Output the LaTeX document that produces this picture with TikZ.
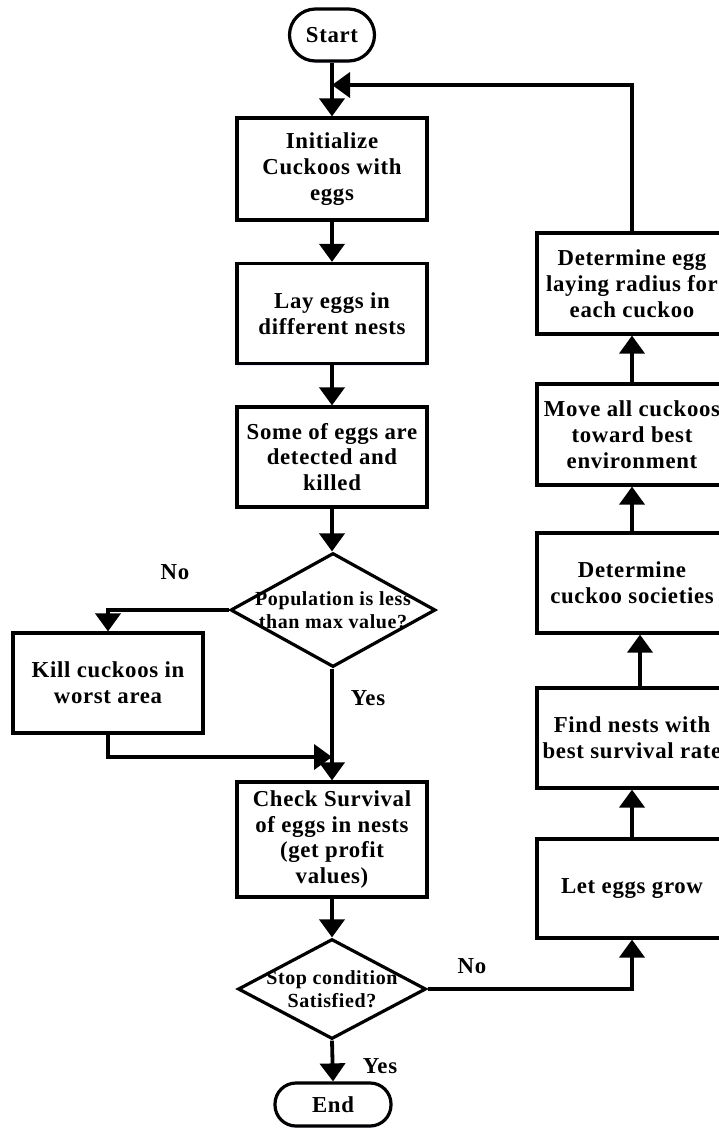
\documentclass[tikz,border=0pt]{standalone}
\usepackage{fontspec}
\setmainfont{Liberation Serif}[LetterSpace=3]
\usetikzlibrary{arrows.meta,shapes.geometric,shadows}
\begin{document}
\begin{tikzpicture}[x=1pt,y=-1pt,
  glow/.style={drop shadow={shadow xshift=0pt,shadow yshift=-2pt,fill=blue!35,opacity=0.25}},
  box/.style={draw,line width=3.2pt,fill=white,glow,minimum width=190pt,inner sep=2pt,align=center,
    font=\bfseries\fontsize{22.8}{25.8}\selectfont},
  term/.style={box,rounded corners=21pt},
  dia/.style={draw,diamond,line width=3.2pt,fill=white,glow,inner sep=0pt},
  diatext/.style={align=center,font=\bfseries\fontsize{20}{22.5}\selectfont},
  lbl/.style={font=\bfseries\fontsize{22.8}{26}\selectfont},
  arr/.style={line width=3.8pt,-{Triangle[width=25pt,length=18pt]}},
  ln/.style={line width=3.8pt}]
\useasboundingbox (0,0) rectangle (719,1128);

% left column
\node[term,minimum width=85pt,minimum height=52pt,rounded corners=26pt] (start) at (332,35) {Start};
\node[box,minimum height=102pt] (init) at (332,169) {Initialize\\Cuckoos with\\eggs};
\node[box,minimum height=100pt] (lay) at (332,313.5) {Lay eggs in\\different nests};
\node[box,minimum height=100pt] (some) at (332,457) {Some of eggs are\\detected and\\killed};
\node[dia,minimum width=205pt,minimum height=114pt,
  label={[diatext]center:{Population is less\\than max value?}}] (dia1) at (333,610) {};
\node[box,minimum height=100pt] (kill) at (108,683) {Kill cuckoos in\\worst area};
\node[box,minimum height=115pt] (check) at (332,839.5) {Check Survival\\of eggs in nests\\(get profit\\values)};
\node[dia,minimum width=188pt,minimum height=100pt,
  label={[diatext]center:{Stop condition\\Satisfied?}}] (dia2) at (332,989) {};
\node[term,minimum width=116pt,minimum height=43pt,rounded corners=21pt] (end) at (333,1104.5) {End};

% right column
\node[box,minimum height=101pt] (egg) at (632,283.5) {Determine egg\\laying radius for\\each cuckoo};
\node[box,minimum height=101pt] (move) at (632,434.5) {Move all cuckoos\\toward best\\environment};
\node[box,minimum height=100pt] (soc) at (632,583) {Determine\\cuckoo societies};
\node[box,minimum height=100pt] (find) at (632,738) {Find nests with\\best survival rate};
\node[box,minimum height=99pt] (grow) at (632,888.5) {Let eggs grow};

\coordinate (join) at (332,85);
\coordinate (merge) at (332,757);

% connectors
\draw[arr] (start.south) -- (init.north);
\draw[arr] (egg.north) |- (join);
\draw[arr] (init.south) -- (lay.north);
\draw[arr] (lay.south) -- (some.north);
\draw[arr] (some.south) -- (dia1.north -| some.south);
\draw[arr] (dia1.west) -| (kill.north);
\draw[arr] (kill.south) |- (merge);
\draw[arr] (dia1.south -| check.north) -- (check.north);
\draw[arr] (check.south) -- (dia2.north);
\draw[arr] (dia2.south) -- (end.north);
\draw[arr] (dia2.east) -| (grow.south);
\draw[arr] (grow.north) -- (find.south);
\draw[arr] ([xshift=8pt]find.north) -- ([xshift=8pt]find.north |- soc.south);
\draw[arr] (soc.north) -- (move.south);
\draw[arr] (move.north) -- (egg.south);

% labels
\node[lbl] (no1) at (175,572) {No};
\node[lbl] (yes1) at (368,698) {Yes};
\node[lbl] (no2) at (472,966) {No};
\node[lbl] (yes2) at (380,1066) {Yes};
\end{tikzpicture}
\end{document}
